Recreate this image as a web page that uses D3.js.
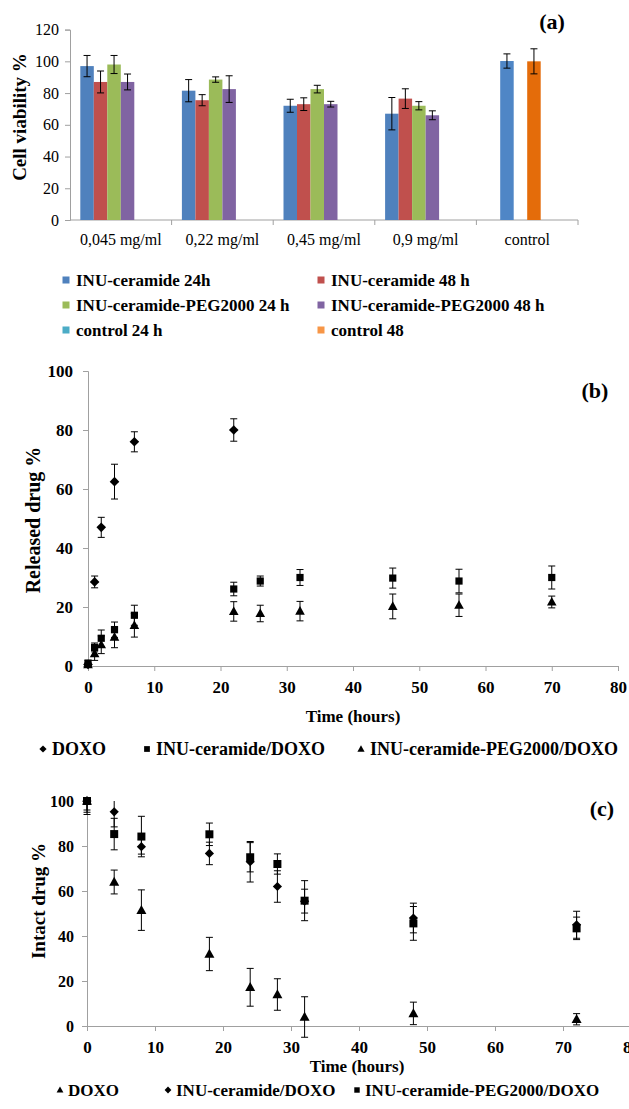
<!DOCTYPE html>
<html><head><meta charset="utf-8">
<script src="https://cdn.jsdelivr.net/npm/d3@7"></script>
<style>
html,body{margin:0;padding:0;background:#fff;}
svg{display:block;font-family:"Liberation Serif","Times New Roman",serif;}
</style></head>
<body><svg id="c" width="629" height="1109"></svg>
<script>
// ---------- Panel (a) data ----------
const categoriesA = ["0,045 mg/ml","0,22 mg/ml","0,45 mg/ml","0,9 mg/ml","control"];
const seriesNamesA = ["INU-ceramide 24h","INU-ceramide 48 h","INU-ceramide-PEG2000 24 h","INU-ceramide-PEG2000 48 h"];
const inu24 = [97, 81.5, 72, 67];
const inu24Err = [6.7, 7, 4.1, 10.2];
const inu48 = [87, 75.5, 73, 76.5];
const inu48Err = [6.9, 3.5, 4, 6.2];
const peg24 = [98, 88.5, 82.5, 72];
const peg24Err = [5.7, 1.7, 2.4, 2.6];
const peg48 = [87, 82.5, 73, 66];
const peg48Err = [5, 8.4, 1.8, 2.8];
const controlNames = ["control 24 h","control 48"];
const controlValues = [100.2, 100];
const controlErr = [4.5, 7.9];
const yTicksA = [0,20,40,60,80,100,120];

// ---------- Panel (b) data ----------
const timesDoxoB = [0,1,2,4,7,22];
const doxoB = [0.5,28.5,47,62.5,76,80];
const doxoBErr = [0.5,2,3.4,5.9,3.4,3.8];
const timesB = [0,1,2,4,7,22,26,32,46,56,70];
const inuB = [1,6.3,9.4,12.3,17.2,26.1,28.8,30,29.8,28.8,30];
const inuBErr = [0.8,1.5,2.8,2.6,3.4,2.3,1.7,2.7,3.4,4,3.9];
const pegB = [0.5,4.2,7.2,9.8,13.8,18.5,17.8,18.6,20.2,20.6,21.7];
const pegBErr = [0.5,2.3,3,3.6,4,3.3,2.8,3.3,4.2,3.8,2];
const legendB = ["DOXO","INU-ceramide/DOXO","INU-ceramide-PEG2000/DOXO"];

// ---------- Panel (c) data ----------
const timesC = [0,4,8,18,24,28,32,48,72];
const doxoC = [100,64,51.5,32,17.2,14,4,5.6,3];
const doxoCErr = [6,5.3,9,7.4,8.4,7,9,5,2.5];
const inuC = [100,95.2,79.7,76.7,73,62,55.5,48,45];
const inuCErr = [5,6.7,3.3,5,9,7,5.3,6.6,6];
const pegC = [100,85.3,84.2,85.2,75,72,55.7,45.6,43.4];
const pegCErr = [4,7,9,5,6.5,4.5,8.9,7.5,5];
const legendC = ["DOXO","INU-ceramide/DOXO","INU-ceramide-PEG2000/DOXO"];
const xTicksBC = [0,10,20,30,40,50,60,70,80];
const yTicksBC = [0,20,40,60,80,100];

// ---------- helpers ----------
const svg = d3.select("#c");
svg.append("rect").attr("width",629).attr("height",1109).attr("fill","#fff");
const AXIS = "#a0a0a0";

function shapePath(type, s){
  if(type==="diamond") return `M0,${-s}L${s},0L0,${s}L${-s},0Z`;
  if(type==="square") return `M${-s*0.8},${-s*0.8}H${s*0.8}V${s*0.8}H${-s*0.8}Z`;
  return `M0,${-s*1.05}L${s},${s*0.75}L${-s},${s*0.75}Z`;
}
function styleAxis(g, bold, size){
  g.select(".domain").attr("stroke",AXIS);
  g.selectAll(".tick line").attr("stroke",AXIS);
  g.selectAll(".tick text").attr("fill","#000")
    .attr("font-family","Liberation Serif, Times New Roman, serif")
    .attr("font-size",size).attr("font-weight",bold?"bold":"normal");
}
function errBars(g, xs, ys, es, x, y, cap){
  const d = xs.map((t,i)=>({t, v:ys[i], e:es[i]}));
  const eg = g.append("g").attr("stroke","#000").attr("stroke-width",1);
  eg.selectAll(".v").data(d).join("line")
    .attr("x1",d=>x(d.t)).attr("x2",d=>x(d.t))
    .attr("y1",d=>y(d.v-d.e)).attr("y2",d=>y(d.v+d.e));
  eg.selectAll(".t").data(d).join("line")
    .attr("x1",d=>x(d.t)-cap).attr("x2",d=>x(d.t)+cap)
    .attr("y1",d=>y(d.v+d.e)).attr("y2",d=>y(d.v+d.e));
  eg.selectAll(".b").data(d).join("line")
    .attr("x1",d=>x(d.t)-cap).attr("x2",d=>x(d.t)+cap)
    .attr("y1",d=>y(d.v-d.e)).attr("y2",d=>y(d.v-d.e));
  return eg;
}
function markers(g, xs, ys, x, y, type, s){
  g.append("g").selectAll("path").data(xs.map((t,i)=>({t,v:ys[i]}))).join("path")
    .attr("d", shapePath(type,s)).attr("fill","#000")
    .attr("transform",d=>`translate(${x(d.t)},${y(d.v)})`);
}

// ================= Panel (a) =================
const seriesA = [
  {name:seriesNamesA[0], vals:inu24, errs:inu24Err, color:"#4F81BD"},
  {name:seriesNamesA[1], vals:inu48, errs:inu48Err, color:"#C0504D"},
  {name:seriesNamesA[2], vals:peg24, errs:peg24Err, color:"#9BBB59"},
  {name:seriesNamesA[3], vals:peg48, errs:peg48Err, color:"#8064A2"}
];
const controlBarColors = ["#4F86C6","#E46C0A"];
const controlLegendColors = ["#4BACC6","#F79646"];
const controlSlot = [1,3];

const xA = d3.scaleBand().domain(categoriesA).range([70,578]).padding(0);
const slotsA = d3.scaleBand().domain(d3.range(6)).range([10.3, xA.bandwidth()-10.3]).padding(0);
const yA = d3.scaleLinear().domain([0,120]).range([220,29.6]);

const gA = svg.append("g");
const gyA = gA.append("g").attr("transform","translate(70,0)")
  .call(d3.axisLeft(yA).tickValues(yTicksA).tickSize(5).tickPadding(6));
styleAxis(gyA,false,16);
gA.append("line").attr("x1",70).attr("x2",578).attr("y1",yA(0)).attr("y2",yA(0)).attr("stroke",AXIS);
const bounds = categoriesA.map(c=>xA(c)).concat([xA(categoriesA[categoriesA.length-1])+xA.bandwidth()]);
gA.selectAll(".bt").data(bounds.slice(1)).join("line")
  .attr("x1",d=>d).attr("x2",d=>d).attr("y1",yA(0)).attr("y2",yA(0)+5).attr("stroke",AXIS);
gA.selectAll(".xl").data(categoriesA).join("text")
  .attr("x",d=>xA(d)+xA.bandwidth()/2).attr("y",245)
  .attr("text-anchor","middle").attr("font-size",16).text(d=>d);

const barsA = [];
seriesA.forEach((s,si)=>{
  s.vals.forEach((v,ci)=>barsA.push({x:xA(categoriesA[ci])+slotsA(si), v, e:s.errs[ci], color:s.color}));
});
controlValues.forEach((v,i)=>barsA.push({x:xA("control")+slotsA(controlSlot[i]), v, e:controlErr[i], color:controlBarColors[i]}));
const bw = slotsA.bandwidth();
gA.selectAll(".bar").data(barsA).join("rect")
  .attr("x",d=>d.x).attr("width",bw).attr("y",d=>yA(d.v)).attr("height",d=>yA(0)-yA(d.v))
  .attr("fill",d=>d.color);
const eA = gA.append("g").attr("stroke","#000").attr("stroke-width",1);
barsA.forEach(d=>{
  const cx = d.x+bw/2;
  eA.append("line").attr("x1",cx).attr("x2",cx).attr("y1",yA(d.v-d.e)).attr("y2",yA(d.v+d.e));
  eA.append("line").attr("x1",cx-3.5).attr("x2",cx+3.5).attr("y1",yA(d.v-d.e)).attr("y2",yA(d.v-d.e));
  eA.append("line").attr("x1",cx-3.5).attr("x2",cx+3.5).attr("y1",yA(d.v+d.e)).attr("y2",yA(d.v+d.e));
});
gA.append("text").attr("transform","translate(19,117) rotate(-90)")
  .attr("text-anchor","middle").attr("dominant-baseline","central")
  .attr("font-weight","bold").attr("font-size",19).text("Cell viability %");
gA.append("text").attr("x",552).attr("y",29).attr("text-anchor","middle")
  .attr("font-weight","bold").attr("font-size",22).text("(a)");

const legA = [
  {name:seriesNamesA[0], color:seriesA[0].color},
  {name:seriesNamesA[1], color:seriesA[1].color},
  {name:seriesNamesA[2], color:seriesA[2].color},
  {name:seriesNamesA[3], color:seriesA[3].color},
  {name:controlNames[0], color:controlLegendColors[0]},
  {name:controlNames[1], color:controlLegendColors[1]}
];
const legRowsA = [280,305,330];
const legColM = [66,321], legColT = [76,331];
legA.forEach((d,i)=>{
  const r = Math.floor(i/2), c = i%2;
  gA.append("rect").attr("x",legColM[c]-3.5).attr("y",legRowsA[r]-3.5).attr("width",7).attr("height",7).attr("fill",d.color);
  gA.append("text").attr("x",legColT[c]).attr("y",legRowsA[r]).attr("dominant-baseline","central")
    .attr("font-weight","bold").attr("font-size",17).text(d.name);
});

// ================= Panel (b) =================
const xB = d3.scaleLinear().domain([0,80]).range([88,618]);
const yB = d3.scaleLinear().domain([0,100]).range([666,371]);
const gB = svg.append("g");
const gxB = gB.append("g").attr("transform",`translate(0,${yB(0)})`)
  .call(d3.axisBottom(xB).tickValues(xTicksBC).tickSize(5).tickPadding(10));
styleAxis(gxB,true,17);
const gyB = gB.append("g").attr("transform",`translate(${xB(0)},0)`)
  .call(d3.axisLeft(yB).tickValues(yTicksBC).tickSize(5).tickPadding(10));
styleAxis(gyB,true,17);
errBars(gB, timesDoxoB, doxoB, doxoBErr, xB, yB, 3.5);
errBars(gB, timesB, inuB, inuBErr, xB, yB, 3.5);
errBars(gB, timesB, pegB, pegBErr, xB, yB, 3.5);
markers(gB, timesDoxoB, doxoB, xB, yB, "diamond", 4.8);
markers(gB, timesB, inuB, xB, yB, "square", 4.5);
markers(gB, timesB, pegB, xB, yB, "triangle", 4.8);
gB.append("text").attr("x",353).attr("y",722).attr("text-anchor","middle")
  .attr("font-weight","bold").attr("font-size",17).text("Time (hours)");
gB.append("text").attr("transform","translate(33,520) rotate(-90)")
  .attr("text-anchor","middle").attr("dominant-baseline","central")
  .attr("font-weight","bold").attr("font-size",20).text("Released drug %");
gB.append("text").attr("x",595).attr("y",398).attr("text-anchor","middle")
  .attr("font-weight","bold").attr("font-size",22).text("(b)");
const legBShapes = ["diamond","square","triangle"];
const legBx = [43,147,361];
legendB.forEach((n,i)=>{
  gB.append("path").attr("d",shapePath(legBShapes[i],3.6)).attr("fill","#000")
    .attr("transform",`translate(${legBx[i]},749)`);
  gB.append("text").attr("x",legBx[i]+9).attr("y",749).attr("dominant-baseline","central")
    .attr("font-weight","bold").attr("font-size",18).text(n);
});

// ================= Panel (c) =================
const xC = d3.scaleLinear().domain([0,80]).range([87,631]);
const yC = d3.scaleLinear().domain([0,100]).range([1026,801]);
const gC = svg.append("g");
svg.append("clipPath").attr("id","clipC").append("rect")
  .attr("x",0).attr("y",yC(100)).attr("width",629).attr("height",yC(0)-yC(100)+20);
const gxC = gC.append("g").attr("transform",`translate(0,${yC(0)})`)
  .call(d3.axisBottom(xC).tickValues(xTicksBC).tickSize(5).tickPadding(10));
styleAxis(gxC,true,17);
const gyC = gC.append("g").attr("transform",`translate(${xC(0)},0)`)
  .call(d3.axisLeft(yC).tickValues(yTicksBC).tickSize(5).tickPadding(8));
styleAxis(gyC,true,16);
errBars(gC, timesC, doxoC, doxoCErr, xC, yC, 3.5).attr("clip-path","url(#clipC)");
errBars(gC, timesC, inuC, inuCErr, xC, yC, 3.5).attr("clip-path","url(#clipC)");
errBars(gC, timesC, pegC, pegCErr, xC, yC, 3.5).attr("clip-path","url(#clipC)");
markers(gC, timesC, pegC, xC, yC, "square", 5);
markers(gC, timesC, inuC, xC, yC, "diamond", 4.6);
markers(gC, timesC, doxoC, xC, yC, "triangle", 5);
gC.append("text").attr("x",357).attr("y",1072).attr("text-anchor","middle")
  .attr("font-weight","bold").attr("font-size",17).text("Time (hours)");
gC.append("text").attr("transform","translate(38,901) rotate(-90)")
  .attr("text-anchor","middle").attr("dominant-baseline","central")
  .attr("font-weight","bold").attr("font-size",19).text("Intact drug %");
gC.append("text").attr("x",602).attr("y",816).attr("text-anchor","middle")
  .attr("font-weight","bold").attr("font-size",22).text("(c)");
const legCShapes = ["triangle","diamond","square"];
const legCx = [60,168,357];
legendC.forEach((n,i)=>{
  gC.append("path").attr("d",shapePath(legCShapes[i],3.4)).attr("fill","#000")
    .attr("transform",`translate(${legCx[i]},1090)`);
  gC.append("text").attr("x",legCx[i]+8).attr("y",1090).attr("dominant-baseline","central")
    .attr("font-weight","bold").attr("font-size",17).text(n);
});
</script></body></html>
